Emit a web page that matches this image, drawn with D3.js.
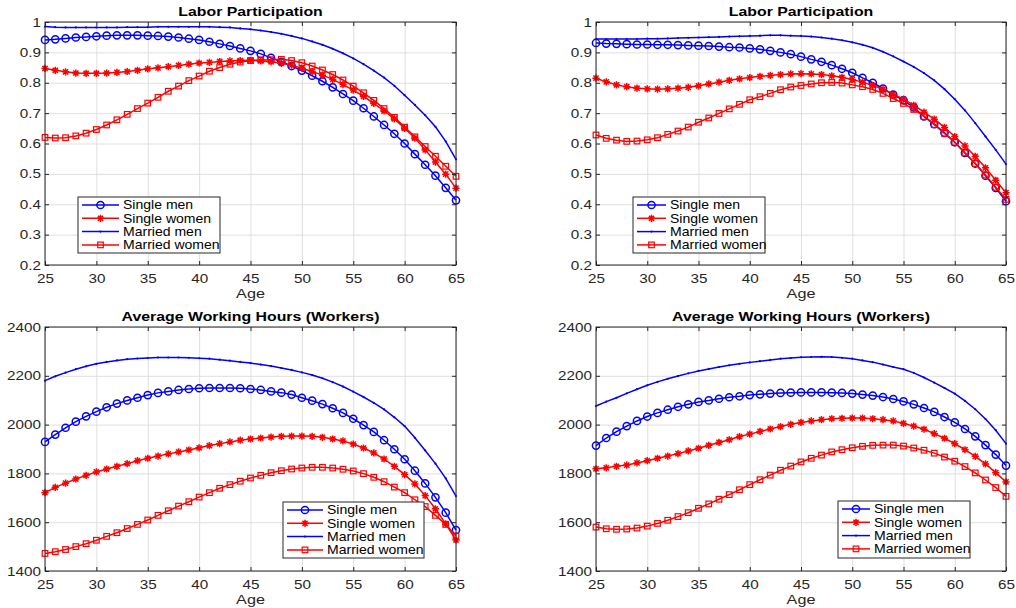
<!DOCTYPE html>
<html>
<head>
<meta charset="utf-8">
<script src="https://cdn.jsdelivr.net/npm/d3@7"></script>
<style>
  body { margin: 0; background: #fff; }
  svg { display: block; }
  text { font-family: "Liberation Sans", Arial, sans-serif; fill: #262626; }
</style>
</head>
<body>
<div id="chart"></div>
<script>
// ages 25..65, one point per year
const ages = d3.range(25, 66)
const xTicks = [25, 30, 35, 40, 45, 50, 55, 60, 65]
const yTicksPart = [0.2, 0.3, 0.4, 0.5, 0.6, 0.7, 0.8, 0.9, 1]
const yTicksHours = [1400, 1600, 1800, 2000, 2200, 2400]
const seriesNames = ['Single men', 'Single women', 'Married men', 'Married women']

// left column, labor participation
const partSingleMenA = [0.941,0.943,0.946,0.949,0.951,0.953,0.955,0.956,0.956,0.956,0.955,0.954,0.952,0.949,0.945,0.941,0.935,0.928,0.921,0.913,0.905,0.895,0.882,0.869,0.855,0.840,0.823,0.805,0.785,0.763,0.741,0.716,0.689,0.661,0.632,0.600,0.565,0.530,0.494,0.454,0.413]
const partSingleWomenA = [0.847,0.841,0.836,0.832,0.831,0.831,0.832,0.834,0.837,0.841,0.846,0.849,0.853,0.857,0.861,0.865,0.867,0.870,0.872,0.873,0.874,0.872,0.869,0.864,0.858,0.848,0.837,0.825,0.811,0.794,0.776,0.755,0.732,0.707,0.681,0.650,0.618,0.579,0.539,0.499,0.453]
const partMarriedMenA = [0.985,0.983,0.982,0.982,0.982,0.982,0.982,0.982,0.983,0.983,0.983,0.984,0.984,0.984,0.984,0.984,0.984,0.983,0.982,0.979,0.976,0.972,0.967,0.961,0.954,0.946,0.936,0.925,0.912,0.897,0.880,0.861,0.840,0.817,0.790,0.759,0.727,0.693,0.655,0.607,0.548]
const partMarriedWomenA = [0.620,0.618,0.619,0.625,0.634,0.646,0.661,0.678,0.696,0.715,0.733,0.752,0.772,0.789,0.807,0.822,0.838,0.850,0.861,0.868,0.873,0.875,0.876,0.877,0.873,0.866,0.855,0.842,0.827,0.809,0.789,0.767,0.742,0.715,0.686,0.654,0.622,0.590,0.558,0.525,0.492]

// right column, labor participation
const partSingleMenB = [0.931,0.929,0.928,0.927,0.926,0.926,0.925,0.925,0.924,0.923,0.922,0.921,0.919,0.917,0.916,0.913,0.910,0.905,0.900,0.894,0.886,0.877,0.869,0.858,0.846,0.833,0.816,0.800,0.781,0.761,0.742,0.719,0.689,0.664,0.635,0.604,0.569,0.534,0.494,0.454,0.410]
const partSingleWomenB = [0.815,0.803,0.793,0.787,0.782,0.780,0.779,0.780,0.782,0.785,0.790,0.796,0.802,0.808,0.813,0.817,0.821,0.824,0.827,0.829,0.830,0.829,0.827,0.823,0.818,0.811,0.802,0.791,0.779,0.762,0.746,0.726,0.703,0.680,0.653,0.623,0.592,0.558,0.520,0.479,0.438]
const partMarriedMenB = [0.944,0.944,0.944,0.944,0.944,0.945,0.945,0.946,0.947,0.948,0.949,0.950,0.951,0.952,0.953,0.954,0.955,0.956,0.956,0.955,0.954,0.952,0.949,0.945,0.940,0.933,0.925,0.915,0.902,0.887,0.870,0.852,0.832,0.808,0.779,0.746,0.709,0.667,0.623,0.579,0.532]
const partMarriedWomenB = [0.628,0.617,0.611,0.607,0.608,0.612,0.619,0.630,0.641,0.654,0.670,0.684,0.699,0.714,0.729,0.744,0.754,0.765,0.777,0.786,0.791,0.796,0.800,0.801,0.799,0.793,0.787,0.778,0.765,0.748,0.732,0.712,0.689,0.662,0.633,0.604,0.569,0.534,0.496,0.456,0.416]

// left column, working hours
const hoursSingleMenA = [1929,1959,1987,2012,2034,2053,2071,2086,2099,2110,2121,2130,2136,2142,2146,2149,2150,2150,2150,2149,2146,2142,2136,2131,2123,2110,2098,2084,2067,2048,2024,1998,1970,1936,1899,1858,1811,1759,1702,1639,1568]
const hoursSingleWomenA = [1721,1743,1760,1777,1792,1806,1818,1829,1840,1852,1862,1871,1880,1888,1896,1905,1914,1922,1929,1936,1941,1945,1949,1952,1953,1953,1952,1948,1941,1933,1920,1904,1884,1859,1829,1795,1757,1709,1655,1593,1527]
const hoursMarriedMenA = [2180,2198,2213,2227,2239,2249,2257,2263,2268,2271,2273,2275,2275,2275,2274,2272,2270,2266,2262,2257,2252,2246,2240,2232,2224,2214,2203,2190,2174,2156,2135,2113,2089,2062,2030,1994,1946,1894,1840,1780,1707]
const hoursMarriedWomenA = [1472,1479,1488,1500,1512,1526,1542,1557,1574,1591,1609,1628,1647,1666,1684,1703,1721,1739,1754,1768,1781,1792,1803,1811,1818,1822,1825,1825,1822,1817,1810,1799,1784,1766,1744,1721,1692,1664,1628,1591,1543]

// right column, working hours
const hoursSingleMenB = [1914,1945,1971,1994,2015,2033,2048,2061,2073,2083,2093,2099,2106,2112,2116,2121,2124,2127,2130,2131,2132,2132,2132,2131,2130,2127,2123,2119,2113,2105,2095,2083,2068,2052,2031,2009,1982,1952,1916,1877,1832]
const hoursSingleWomenB = [1819,1823,1829,1834,1843,1852,1862,1871,1881,1892,1903,1915,1927,1938,1951,1961,1972,1982,1992,2001,2009,2015,2020,2024,2026,2027,2027,2024,2020,2015,2005,1994,1981,1963,1944,1922,1897,1870,1839,1803,1765]
const hoursMarriedMenB = [2076,2094,2110,2128,2145,2161,2175,2188,2199,2210,2220,2228,2236,2243,2249,2255,2260,2265,2270,2273,2276,2277,2278,2277,2274,2270,2263,2256,2246,2236,2227,2212,2193,2172,2150,2127,2097,2063,2023,1977,1922]
const hoursMarriedWomenB = [1580,1573,1571,1572,1576,1584,1595,1608,1623,1639,1657,1675,1694,1713,1733,1754,1774,1793,1813,1830,1847,1862,1875,1888,1897,1905,1911,1915,1916,1916,1912,1904,1895,1883,1867,1850,1828,1802,1773,1742,1706]

const W = 1016, H = 608
const svg = d3.select('#chart').append('svg').attr('width', W).attr('height', H)

const styles = [
  {color: '#0000ff', marker: 'circle'},
  {color: '#ff0000', marker: 'star'},
  {color: '#0000ff', marker: 'dot'},
  {color: '#ff0000', marker: 'square'}
]

const panels = [
  {x0: 45, x1: 456, y0: 22, y1: 265, title: 'Labor Participation', yTicks: yTicksPart, yDom: [0.2, 1],
   series: [partSingleMenA, partSingleWomenA, partMarriedMenA, partMarriedWomenA],
   leg: {x: 78, y: 197, w: 142, h: 56, line: 37}},
  {x0: 596, x1: 1006, y0: 22, y1: 265, title: 'Labor Participation', yTicks: yTicksPart, yDom: [0.2, 1],
   series: [partSingleMenB, partSingleWomenB, partMarriedMenB, partMarriedWomenB],
   leg: {x: 633, y: 197, w: 132, h: 56, line: 29}},
  {x0: 45, x1: 456, y0: 327, y1: 571, title: 'Average Working Hours (Workers)', yTicks: yTicksHours, yDom: [1400, 2400],
   series: [hoursSingleMenA, hoursSingleWomenA, hoursMarriedMenA, hoursMarriedWomenA],
   leg: {x: 283, y: 502, w: 141, h: 56, line: 36}},
  {x0: 596, x1: 1006, y0: 327, y1: 571, title: 'Average Working Hours (Workers)', yTicks: yTicksHours, yDom: [1400, 2400],
   series: [hoursSingleMenB, hoursSingleWomenB, hoursMarriedMenB, hoursMarriedWomenB],
   leg: {x: 838, y: 501, w: 132, h: 57, line: 28}}
]

const SX = 1.22  // the picture's text is a bit wide

const drawMarker = (g, type, color, x, y) => {
  if (type === 'circle') {
    g.append('circle').attr('cx', x).attr('cy', y).attr('r', 3.6)
      .attr('fill', 'none').attr('stroke', color).attr('stroke-width', 1.5)
  } else if (type === 'square') {
    g.append('rect').attr('x', x - 2.8).attr('y', y - 2.8).attr('width', 5.6).attr('height', 5.6)
      .attr('fill', 'none').attr('stroke', color).attr('stroke-width', 1.2)
  } else if (type === 'star') {
    const s = 3.6, d = 2.6
    g.append('path')
      .attr('d', `M${x-s},${y}H${x+s}M${x},${y-s}V${y+s}M${x-d},${y-d}L${x+d},${y+d}M${x-d},${y+d}L${x+d},${y-d}`)
      .attr('stroke', color).attr('stroke-width', 1.5).attr('fill', 'none')
  } else {
    g.append('circle').attr('cx', x).attr('cy', y).attr('r', 1.1).attr('fill', color)
  }
}

panels.forEach(p => {
  const x = d3.scaleLinear().domain([25, 65]).range([p.x0, p.x1])
  const y = d3.scaleLinear().domain(p.yDom).range([p.y1, p.y0])
  const w = p.x1 - p.x0, h = p.y1 - p.y0
  const g = svg.append('g')

  // grid
  g.append('g').attr('transform', `translate(0,${p.y1})`)
    .call(d3.axisBottom(x).tickValues(xTicks).tickSize(-h).tickFormat(''))
    .call(a => a.select('.domain').remove())
    .selectAll('line').attr('stroke', '#dfdfdf').attr('stroke-width', 1)
  g.append('g').attr('transform', `translate(${p.x0},0)`)
    .call(d3.axisLeft(y).tickValues(p.yTicks).tickSize(-w).tickFormat(''))
    .call(a => a.select('.domain').remove())
    .selectAll('line').attr('stroke', '#dfdfdf').attr('stroke-width', 1)

  // series
  p.series.forEach((vals, si) => {
    const st = styles[si]
    const pts = ages.map((a, i) => [a, vals[i]])
    g.append('path').datum(pts)
      .attr('d', d3.line().x(d => x(d[0])).y(d => y(d[1])))
      .attr('fill', 'none').attr('stroke', st.color).attr('stroke-width', 1.5)
    const mg = g.append('g')
    pts.forEach(d => drawMarker(mg, st.marker, st.color, x(d[0]), y(d[1])))
  })

  // box
  g.append('rect').attr('x', p.x0).attr('y', p.y0).attr('width', w).attr('height', h)
    .attr('fill', 'none').attr('stroke', '#262626').attr('stroke-width', 1)

  // axes with inside ticks
  const bx = g.append('g').attr('transform', `translate(0,${p.y1})`)
    .call(d3.axisBottom(x).tickValues(xTicks).tickSizeInner(-4).tickSizeOuter(0).tickPadding(9))
  const ly = g.append('g').attr('transform', `translate(${p.x0},0)`)
    .call(d3.axisLeft(y).tickValues(p.yTicks).tickSizeInner(-4).tickSizeOuter(0).tickPadding(4)
      .tickFormat(d => String(+d.toFixed(1))))
  g.append('g').attr('transform', `translate(0,${p.y0})`)
    .call(d3.axisTop(x).tickValues(xTicks).tickSizeInner(-4).tickSizeOuter(0).tickFormat(''))
  g.append('g').attr('transform', `translate(${p.x1},0)`)
    .call(d3.axisRight(y).tickValues(p.yTicks).tickSizeInner(-4).tickSizeOuter(0).tickFormat(''))
  g.selectAll('.domain').remove()
  g.selectAll('.tick line').filter(function () { return !this.getAttribute('stroke') || this.getAttribute('stroke') === 'currentColor' })
    .attr('stroke', '#262626')
  bx.selectAll('text').attr('font-size', 12.5).attr('fill', '#262626').attr('transform', `scale(${SX},1)`)
  ly.selectAll('text').attr('font-size', 12.5).attr('fill', '#262626')
    .attr('x', -4 / SX).attr('transform', `scale(${SX},1)`)

  // title and axis label
  const cx = (p.x0 + p.x1) / 2
  g.append('text').attr('transform', `translate(${cx},${p.y0 - 6}) scale(1.22,1)`)
    .attr('text-anchor', 'middle').attr('font-size', 13).attr('font-weight', 'bold')
    .style('fill', '#000').text(p.title)
  g.append('text').attr('transform', `translate(${cx},${p.y1 + 33}) scale(1.2,1)`)
    .attr('text-anchor', 'middle').attr('font-size', 13.5).text('Age')

  // legend
  const L = p.leg
  const lg = g.append('g')
  lg.append('rect').attr('x', L.x).attr('y', L.y).attr('width', L.w).attr('height', L.h)
    .attr('fill', '#fff').attr('stroke', '#262626').attr('stroke-width', 1)
  seriesNames.forEach((name, i) => {
    const ry = L.y + 8 + i * 13.3
    const st = styles[i]
    lg.append('line').attr('x1', L.x + 4).attr('x2', L.x + 4 + L.line).attr('y1', ry).attr('y2', ry)
      .attr('stroke', st.color).attr('stroke-width', 1.5)
    drawMarker(lg, st.marker, st.color, L.x + 4 + L.line / 2, ry)
    lg.append('text').attr('transform', `translate(${L.x + L.line + 8},${ry + 4.2}) scale(1.17,1)`)
      .attr('font-size', 12).style('fill', '#000').text(name)
  })
})
</script>
</body>
</html>
